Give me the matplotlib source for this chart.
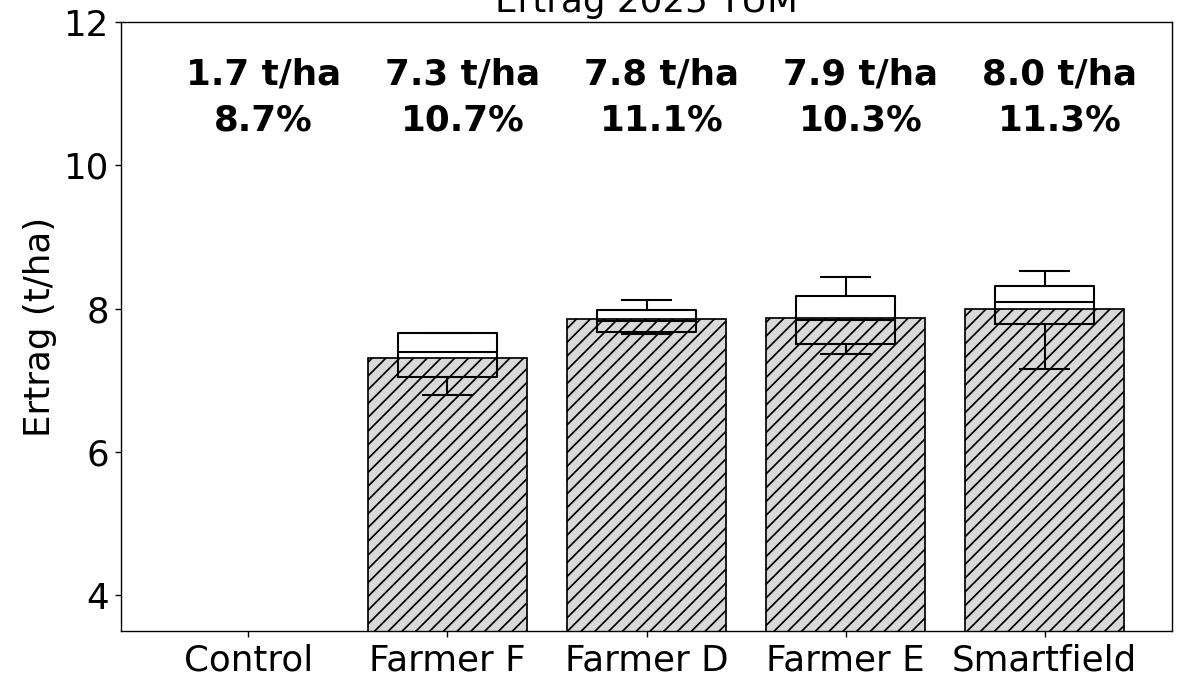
import numpy as np
import matplotlib
matplotlib.use('Agg')
import matplotlib.pyplot as plt

categories = ['Control', 'Farmer F', 'Farmer D', 'Farmer E', 'Smartfield']
yield_mean = [1.70, 7.31, 7.85, 7.87, 7.99]
moisture = [8.7, 10.7, 11.1, 10.3, 11.3]

# box stats for the farmer plots (Control box lies below the visible range)
box_names = ['Farmer F', 'Farmer D', 'Farmer E', 'Smartfield']
box_whislo = [6.79, 7.64, 7.36, 7.15]
box_q1 = [7.04, 7.68, 7.50, 7.78]
box_med = [7.40, 7.83, 7.84, 8.09]
box_q3 = [7.66, 7.98, 8.17, 8.31]
box_whishi = [7.66, 8.12, 8.44, 8.52]

DPI = 124
FS = 20.7
fig = plt.figure(figsize=(1183 / DPI, 676 / DPI), dpi=DPI)
ax = fig.add_axes([121 / 1183, 1 - 631 / 676, (1172 - 121) / 1183, (631 - 22) / 676])

x = np.arange(len(categories))
ax.bar(x, yield_mean, width=0.8, color='#d9d9d9', edgecolor='black', hatch='///', lw=1.0)

stats = [dict(med=m, q1=a, q3=b, whislo=lo, whishi=hi, fliers=[], label=n)
         for n, lo, a, m, b, hi in zip(box_names, box_whislo, box_q1, box_med, box_q3, box_whishi)]
ax.bxp(stats, positions=[categories.index(n) for n in box_names], widths=0.5,
       showfliers=False, manage_ticks=False,
       boxprops=dict(color='black', lw=1.2), medianprops=dict(color='black', lw=1.2),
       whiskerprops=dict(color='black', lw=1.2), capprops=dict(color='black', lw=1.2))

for i, (v, p) in enumerate(zip(yield_mean, moisture)):
    ax.text(i + 0.075, 11.5, f'{v:.1f} t/ha\n{p:.1f}%', ha='center', va='top',
            fontsize=FS, fontweight='bold', linespacing=1.45)

ax.set_xticks(x)
ax.set_xticklabels(categories, fontsize=FS)
ax.set_xlim(-0.64, 4.64)
ax.set_ylim(3.5, 12)
ax.set_yticks([4, 6, 8, 10, 12])
ax.tick_params(axis='y', labelsize=FS)
ax.set_ylabel('Ertrag (t/ha)', fontsize=FS)
ax.set_title('Ertrag 2025 TUM', fontsize=FS)

plt.savefig('out.png', dpi=DPI)
